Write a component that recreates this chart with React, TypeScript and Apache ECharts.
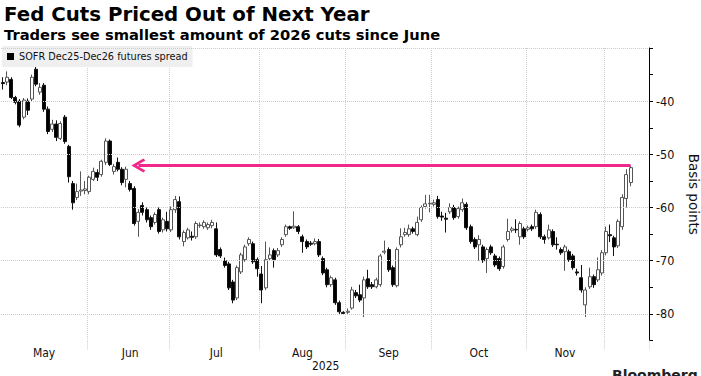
import React, { useEffect, useRef } from 'react';
import * as echarts from 'echarts';

const months = ['May', 'Jun', 'Jul', 'Aug', 'Sep', 'Oct', 'Nov', 'Dec'];
const tradingDaysPerMonth = [21, 20, 22, 21, 21, 23, 19, 7];
const trailingEmptySlots = 4;

const seriesName = 'SOFR Dec25-Dec26 futures spread';

const opens = [
  -36.5, -36.4, -35.9, -39.3, -40.0, -43.0, -40.0, -39.6, -34.0, -38.3, -37.0, -41.5, -45.3, -44.3, -47.0, -43.0, -48.5, -55.5, -58.1, -56.9, -56.8,
  -57.0, -54.7, -53.4, -53.8, -51.5, -47.5, -53.2, -51.5, -52.8, -54.7, -55.5, -56.4, -62.6, -59.6, -60.4, -61.9, -62.8, -60.4, -64.2, -62.6,
  -64.2, -60.4, -58.9, -66.4, -65.7, -65.4, -65.5, -63.4, -63.6, -63.8, -63.4, -64.0, -67.9, -70.0, -70.6, -74.0, -77.0, -72.1, -69.8, -66.8, -66.8, -69.8,
  -72.5, -75.1, -69.6, -68.1, -68.9, -67.0, -65.1, -63.6, -63.8, -63.6, -65.5, -66.4, -66.7, -66.8, -66.4, -69.6, -71.7, -74.5, -73.6, -77.9, -79.7,
  -79.7, -78.9, -76.0, -76.4, -77.0, -73.4, -74.5, -74.9, -74.5, -68.4, -67.9, -71.3, -74.7, -67.0, -65.1, -65.1, -64.0, -65.1, -62.3, -59.8, -59.3,
  -59.4, -58.5, -61.6, -62.0, -60.8, -60.0, -61.7, -60.4, -59.4, -63.6, -66.0, -67.0, -67.4, -69.6, -67.4, -69.1, -69.6, -71.1, -66.0, -64.3, -64.1, -65.5, -64.0,
  -64.1, -63.6, -63.6, -61.3, -65.5, -65.7, -64.5, -66.9, -67.9, -68.3, -68.3, -69.1, -72.1, -73.2, -78.3, -74.9, -73.0, -73.6, -72.3,
  -68.5, -65.1, -65.7, -67.2, -63.6, -58.3, -55.3,
];
const closes = [
  -36.7, -35.5, -39.3, -40.2, -44.5, -39.8, -41.7, -35.5, -36.8, -37.4, -41.5, -45.7, -44.3, -46.8, -44.2, -47.6, -54.2, -59.1, -57.0, -56.7, -56.5,
  -54.3, -53.2, -54.3, -51.3, -47.5, -51.9, -52.3, -52.8, -55.3, -52.8, -56.6, -63.0, -60.9, -60.9, -62.3, -63.6, -61.3, -64.5, -62.3, -64.0,
  -60.4, -58.5, -65.5, -64.7, -64.2, -65.6, -63.0, -63.3, -62.8, -63.2, -62.8, -68.9, -69.1, -70.9, -75.1, -77.4, -71.3, -68.9, -67.4, -66.0, -70.2, -71.5,
  -75.5, -69.8, -68.9, -69.8, -68.1, -66.0, -63.6, -63.9, -63.5, -64.5, -66.4, -67.4, -66.9, -66.4, -68.9, -72.3, -74.5, -73.2, -77.9, -79.6, -79.9,
  -79.5, -75.5, -76.6, -77.4, -73.6, -74.9, -74.9, -73.6, -69.1, -68.2, -71.7, -74.5, -67.9, -65.5, -64.7, -64.0, -64.5, -62.8, -60.0, -59.3, -59.2,
  -59.1, -61.7, -61.8, -62.2, -60.0, -61.9, -60.2, -59.1, -63.8, -66.4, -67.4, -66.0, -70.0, -67.9, -68.5, -70.8, -71.5, -67.4, -64.5, -64.0, -64.2, -63.0, -65.5,
  -63.8, -64.0, -60.9, -65.5, -66.0, -64.2, -67.0, -67.0, -68.5, -67.4, -69.8, -71.3, -72.3, -75.5, -75.5, -73.0, -74.5, -71.7, -68.5,
  -64.5, -65.3, -67.4, -62.6, -58.1, -53.8, -52.5,
];
const lows = [
  -37.8, -37.0, -39.6, -40.6, -44.9, -43.4, -42.6, -40.0, -37.2, -38.8, -42.0, -46.2, -45.8, -47.5, -47.3, -48.0, -55.3, -60.4, -58.6, -57.8, -57.5,
  -57.5, -55.0, -55.0, -54.2, -52.0, -52.2, -53.8, -53.2, -55.8, -56.2, -57.0, -63.4, -65.5, -61.5, -62.8, -64.2, -63.2, -64.9, -64.7, -64.5,
  -64.6, -61.0, -66.0, -67.3, -66.0, -66.2, -65.9, -63.8, -64.0, -64.2, -63.9, -69.3, -69.5, -71.3, -75.5, -78.0, -77.4, -72.5, -70.2, -67.2, -70.6, -73.0,
  -78.0, -75.5, -70.0, -71.3, -69.3, -67.4, -65.5, -64.2, -64.0, -65.0, -68.5, -67.8, -67.2, -67.1, -69.3, -72.7, -75.0, -74.9, -78.3, -80.0, -80.2,
  -80.0, -79.2, -77.0, -77.8, -80.6, -75.3, -75.3, -75.2, -74.9, -68.8, -72.1, -74.9, -75.0, -67.5, -65.5, -65.5, -64.9, -65.4, -62.7, -60.2, -60.9,
  -59.8, -62.1, -62.5, -64.7, -61.2, -62.3, -62.1, -60.8, -64.2, -66.8, -67.8, -70.0, -70.4, -72.3, -68.9, -71.2, -71.9, -71.5, -66.4, -64.7, -64.8, -67.0, -65.9,
  -64.5, -64.4, -64.0, -65.9, -66.8, -66.0, -67.4, -67.9, -68.9, -71.9, -70.2, -71.7, -72.8, -76.0, -80.6, -75.3, -75.1, -74.0, -72.8,
  -69.0, -66.5, -69.1, -67.6, -64.2, -60.0, -56.0,
];
const highs = [
  -35.5, -34.4, -35.5, -39.0, -39.6, -39.4, -39.5, -35.0, -33.4, -36.6, -36.6, -41.0, -43.5, -43.6, -43.8, -42.6, -48.2, -55.0, -55.5, -53.2, -55.0,
  -54.0, -52.5, -52.8, -51.0, -47.0, -47.2, -51.8, -50.6, -52.4, -52.3, -55.0, -56.0, -60.3, -59.0, -60.0, -61.5, -60.9, -60.0, -61.9, -60.8,
  -59.8, -57.8, -57.9, -64.3, -63.8, -64.5, -62.6, -62.8, -62.4, -62.8, -62.3, -62.8, -67.5, -69.4, -70.2, -73.6, -70.9, -68.5, -67.0, -65.6, -66.4, -69.4,
  -71.0, -66.4, -67.5, -67.7, -67.6, -65.6, -63.2, -63.4, -60.7, -63.3, -65.1, -66.0, -66.3, -65.8, -65.9, -69.2, -71.3, -72.8, -73.2, -77.5, -79.5,
  -79.0, -74.9, -75.5, -74.5, -73.0, -71.7, -74.0, -73.2, -68.7, -66.2, -67.5, -70.9, -67.5, -63.9, -63.8, -63.2, -63.6, -61.7, -59.6, -57.6, -57.6,
  -58.5, -57.8, -60.8, -61.0, -59.2, -59.5, -59.8, -58.3, -59.0, -63.2, -65.6, -65.2, -67.0, -67.5, -67.0, -68.7, -69.2, -67.0, -62.1, -63.6, -62.2, -62.6, -63.6,
  -63.4, -63.2, -60.4, -60.9, -65.1, -63.2, -64.1, -65.6, -67.5, -67.0, -67.9, -68.7, -71.5, -70.8, -75.0, -71.3, -72.6, -69.4, -68.0,
  -63.6, -63.2, -65.3, -62.2, -57.5, -52.8, -52.1,
];

const yMin = -85;
const yMax = -30;
const yTickStep = 5;
const yGridValues = [-30, -40, -50, -60, -70, -80];
const arrowLevel = -52.1;
const arrowTipIndex = 33;

const narrowFont = "'DejaVu Sans Condensed', 'Liberation Sans', sans-serif";

export default function App() {
  const ref = useRef<HTMLDivElement>(null);

  useEffect(() => {
    if (!ref.current) return;
    const chart = echarts.init(ref.current, null, { renderer: 'svg' });

    const categories: string[] = [];
    const monthStarts = new Set<number>();
    const labelAt = new Map<number, string>();
    let idx = 0;
    tradingDaysPerMonth.forEach((n, m) => {
      monthStarts.add(idx);
      if (n >= 15) labelAt.set(idx + Math.floor(n / 2), months[m]);
      for (let d = 1; d <= n; d++) categories.push(`${months[m]} ${d}`);
      idx += n;
    });
    for (let k = 0; k < trailingEmptySlots; k++) categories.push(`pad ${k + 1}`);

    const candleData = opens.map((o, i) => [o, closes[i], lows[i], highs[i]]);
    const lastIndex = candleData.length - 1;

    chart.setOption({
      animation: false,
      backgroundColor: '#ffffff',
      title: [
        {
          text: 'Fed Cuts Priced Out of Next Year',
          left: 4,
          top: 4,
          padding: 0,
          textStyle: { fontFamily: 'DejaVu Sans', fontWeight: 'bold', fontSize: 19.8, color: '#000' },
        },
        {
          text: 'Traders see smallest amount of 2026 cuts since June',
          left: 4,
          top: 27,
          padding: 0,
          textStyle: { fontFamily: 'DejaVu Sans', fontWeight: 'bold', fontSize: 14.7, color: '#000' },
        },
      ],
      legend: {
        left: 2,
        top: 46,
        padding: [5, 5, 5, 5],
        backgroundColor: '#efefef',
        borderRadius: 2,
        itemWidth: 7,
        itemHeight: 7,
        itemGap: 4,
        selectedMode: false,
        textStyle: { fontFamily: narrowFont, fontSize: 10.8, color: '#111' },
        data: [{ name: seriesName, icon: 'rect', itemStyle: { color: '#000', borderWidth: 0 } }],
      },
      grid: { left: 1, right: 52, top: 48, bottom: 35.5, containLabel: false, outerBoundsMode: 'none' },
      xAxis: {
        type: 'category',
        data: categories,
        boundaryGap: true,
        axisLine: { show: false },
        axisTick: {
          show: true,
          interval: (i: number) => i > 0 && monthStarts.has(i),
          length: 10,
          lineStyle: { color: '#cccccc', type: 'dotted' },
        },
        splitLine: {
          show: true,
          interval: (i: number) => i > 0 && monthStarts.has(i),
          lineStyle: { color: '#cccccc', type: 'dotted', width: 1 },
        },
        axisLabel: {
          interval: (i: number) => labelAt.has(i),
          formatter: (_v: string, i: number) => labelAt.get(i) || '',
          fontFamily: narrowFont,
          fontSize: 12,
          color: '#111',
          margin: 6,
        },
      },
      yAxis: {
        type: 'value',
        position: 'right',
        min: yMin,
        max: yMax,
        interval: yTickStep,
        name: 'Basis points',
        nameLocation: 'middle',
        nameRotate: -90,
        nameGap: 38,
        nameTextStyle: { fontFamily: 'DejaVu Sans', fontSize: 13.5, color: '#111' },
        axisLine: { show: true, lineStyle: { color: '#000', width: 1 } },
        axisTick: { show: true, inside: false, length: 4, lineStyle: { color: '#000' } },
        splitLine: { show: false },
        axisLabel: {
          formatter: (v: number) => (v % 10 === 0 && v !== yMax ? String(v) : ''),
          fontFamily: narrowFont,
          fontSize: 12.5,
          color: '#111',
          margin: 7,
        },
      },
      graphic: [
        {
          type: 'text',
          left: 312,
          top: 360,
          style: { text: '2025', fontFamily: narrowFont, fontSize: 12, fill: '#111' },
        },
        {
          type: 'text',
          left: 612,
          top: 368,
          style: { text: 'Bloomberg', fontFamily: 'DejaVu Sans', fontWeight: 'bold', fontSize: 14, fill: '#222' },
        },
      ],
      series: [
        {
          type: 'line',
          name: 'grid',
          data: [],
          z: 1,
          silent: true,
          markLine: {
            silent: true,
            symbol: 'none',
            label: { show: false },
            lineStyle: { color: '#cccccc', type: 'dotted', width: 1 },
            data: yGridValues.map((v) => ({ yAxis: v })),
          },
        },
        {
          type: 'candlestick',
          name: seriesName,
          data: candleData,
          z: 3,
          barWidth: 3.5,
          itemStyle: {
            color: '#ffffff',
            color0: '#000000',
            borderColor: '#555555',
            borderColor0: '#111111',
            borderWidth: 1,
          },
          markLine: {
            silent: true,
            symbol: ['none', 'path://M7,0 L14,9 L12,10.5 L7,4 L2,10.5 L0,9 Z'],
            symbolSize: 14,
            label: { show: false },
            lineStyle: { color: '#f0288c', width: 3, type: 'solid' },
            itemStyle: { color: '#f0288c' },
            data: [
              [
                { coord: [lastIndex, arrowLevel] },
                { coord: [arrowTipIndex, arrowLevel] },
              ],
            ],
          },
        },
      ],
    });

    return () => chart.dispose();
  }, []);

  return <div ref={ref} style={{ width: 701, height: 376, position: 'absolute', left: 0, top: 0 }} />;
}
